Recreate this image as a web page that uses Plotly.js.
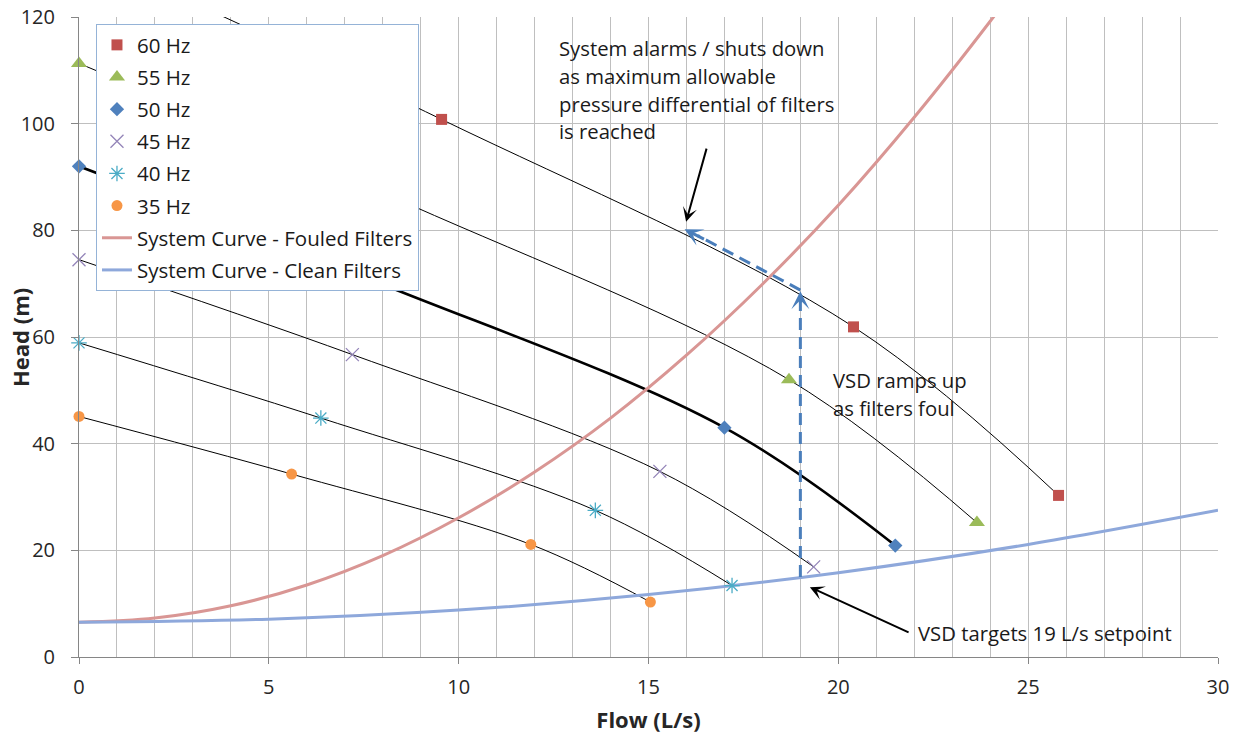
<!DOCTYPE html>
<html>
<head>
<meta charset="utf-8">
<script src="https://cdn.plot.ly/plotly-3.0.1.min.js"></script>
<style>html,body{margin:0;padding:0;background:#fff;}#chart{width:1240px;height:738px;}</style>
</head>
<body>
<div id="chart"></div>
<script>
// Pump curves (flow L/s, head m)
const flow60 = [0, 9.55, 20.4, 25.8];
const head60 = [132.5, 100.8, 61.9, 30.3];
const flow55 = [0, 8.75, 18.7, 23.65];
const head55 = [111.3, 84.7, 52.0, 25.2];
const flow50 = [0, 7.95, 17.0, 21.5];
const head50 = [92.0, 70.0, 43.0, 20.9];
const flow45 = [0, 7.2, 15.3, 19.35];
const head45 = [74.5, 56.7, 34.8, 16.9];
const flow40 = [0, 6.37, 13.6, 17.2];
const head40 = [58.9, 44.8, 27.5, 13.4];
const flow35 = [0, 5.6, 11.9, 15.05];
const head35 = [45.1, 34.3, 21.1, 10.3];

// System curves
const flowFouled = [0, 2, 4, 6, 8, 10, 12, 14, 16, 18, 20, 22, 24, 25];
const headFouled = [6.5, 7.3, 9.6, 13.5, 19.0, 26.1, 34.7, 44.8, 56.6, 69.9, 84.7, 101.2, 119.2, 128.8];
const flowClean = [0, 5, 10, 15, 20, 25, 30];
const headClean = [6.5, 7.1, 8.8, 11.7, 15.8, 21.1, 27.5];

const seriesNames = ['60 Hz', '55 Hz', '50 Hz', '45 Hz', '40 Hz', '35 Hz'];
const systemNames = ['System Curve - Fouled Filters', 'System Curve - Clean Filters'];

const FONT = 'Open Sans, Noto Sans, sans-serif';
const pumps = [
  {x: flow60, y: head60, color: '#C0504D', symbol: 'square', size: 11, w: 1},
  {x: flow55, y: head55, color: '#9BBB59', symbol: 'triangle-up', size: 14, w: 1},
  {x: flow50, y: head50, color: '#4F81BD', symbol: 'diamond', size: 11, w: 2.6},
  {x: flow45, y: head45, color: '#9384B8', symbol: 'x-thin-open', size: 13, w: 1},
  {x: flow40, y: head40, color: '#4BACC6', symbol: 'asterisk-open', size: 13, w: 1},
  {x: flow35, y: head35, color: '#F79646', symbol: 'circle', size: 11, w: 1}
];

const traces = [];
pumps.forEach((p, i) => {
  traces.push({
    x: p.x, y: p.y, mode: 'lines', type: 'scatter', showlegend: false, hoverinfo: 'skip',
    line: {color: '#000000', width: p.w, shape: 'spline', smoothing: 1}
  });
});
traces.push({
  x: flowFouled, y: headFouled, mode: 'lines', type: 'scatter', name: systemNames[0],
  legendgroup: 'g7', legendrank: 7,
  line: {color: '#D99694', width: 3, shape: 'spline', smoothing: 1}
});
traces.push({
  x: flowClean, y: headClean, mode: 'lines', type: 'scatter', name: systemNames[1],
  legendgroup: 'g8', legendrank: 8,
  line: {color: '#8EA8DB', width: 3, shape: 'spline', smoothing: 1}
});
pumps.forEach((p, i) => {
  const open = p.symbol.indexOf('open') >= 0;
  traces.push({
    x: p.x, y: p.y, mode: 'markers', type: 'scatter', name: seriesNames[i],
    legendgroup: 'g' + (i + 1), legendrank: i + 1, cliponaxis: false,
    marker: open
      ? {symbol: p.symbol, size: p.size, color: p.color, line: {color: p.color, width: 1.3}}
      : {symbol: p.symbol, size: p.size, color: p.color, line: {width: 0}}
  });
});

const blue = '#4A7EBB';
const txt = {family: FONT, size: 20.3, color: '#1a1a1a'};
const layout = {
  width: 1240, height: 738,
  margin: {l: 79, r: 22, t: 17, b: 81},
  paper_bgcolor: '#ffffff', plot_bgcolor: '#ffffff',
  font: {family: FONT, size: 20, color: '#262626'},
  showlegend: true,
  legend: {
    x: 0.0149, y: 0.989, xanchor: 'left', yanchor: 'top',
    bgcolor: '#ffffff', bordercolor: '#95B3D7', borderwidth: 1,
    font: {family: FONT, size: 20.5, color: '#1a1a1a'},
    traceorder: 'grouped', tracegroupgap: 2.5
  },
  xaxis: {
    range: [0, 30], dtick: 5, tick0: 0,
    showgrid: true, gridcolor: '#BFBFBF', gridwidth: 1,
    minor: {dtick: 1, showgrid: true, gridcolor: '#BFBFBF', gridwidth: 1, ticks: ''},
    zeroline: false, showline: true, linecolor: '#868686', linewidth: 1,
    ticks: 'outside', ticklen: 6, tickcolor: '#868686',
    ticklabelstandoff: 6,
    tickfont: {family: FONT, size: 20, color: '#262626'},
    title: {text: '<b>Flow (L/s)</b>', font: {family: FONT, size: 22, color: '#262626'}, standoff: 13}
  },
  yaxis: {
    range: [0, 120], dtick: 20, tick0: 0,
    showgrid: true, gridcolor: '#BFBFBF', gridwidth: 1,
    zeroline: false, showline: true, linecolor: '#868686', linewidth: 1,
    ticks: 'outside', ticklen: 7, tickcolor: '#868686',
    ticklabelstandoff: 12,
    tickfont: {family: FONT, size: 20, color: '#262626'}
  },
  shapes: [
    {type: 'line', xref: 'x', yref: 'y', x0: 19, y0: 15, x1: 19, y1: 67.2,
     line: {color: blue, width: 3, dash: '12px,7px'}},
    {type: 'line', xref: 'x', yref: 'y', x0: 19, y0: 68.8, x1: 16.3, y1: 79.0,
     line: {color: blue, width: 3, dash: '12px,7px'}}
  ],
  annotations: [
    {xref: 'paper', yref: 'paper', x: -0.0518, y: 0.5, xanchor: 'center', yanchor: 'middle', textangle: -90,
     showarrow: false, text: '<b>Head (m)</b>', font: {family: FONT, size: 22, color: '#262626'}},
    {xref: 'x', yref: 'y', x: 12.6, y: 114.2, xanchor: 'left', yanchor: 'middle', showarrow: false, align: 'left', text: 'System alarms / shuts down', font: txt},
    {xref: 'x', yref: 'y', x: 12.6, y: 108.9, xanchor: 'left', yanchor: 'middle', showarrow: false, align: 'left', text: 'as maximum allowable', font: txt},
    {xref: 'x', yref: 'y', x: 12.6, y: 103.7, xanchor: 'left', yanchor: 'middle', showarrow: false, align: 'left', text: 'pressure differential of filters', font: txt},
    {xref: 'x', yref: 'y', x: 12.6, y: 98.6, xanchor: 'left', yanchor: 'middle', showarrow: false, align: 'left', text: 'is reached', font: txt},
    {xref: 'x', yref: 'y', x: 19.8, y: 51.9, xanchor: 'left', yanchor: 'middle', showarrow: false, align: 'left', text: 'VSD ramps up', font: txt},
    {xref: 'x', yref: 'y', x: 19.8, y: 46.7, xanchor: 'left', yanchor: 'middle', showarrow: false, align: 'left', text: 'as filters foul', font: txt},
    {xref: 'x', yref: 'y', x: 22.05, y: 4.5, xanchor: 'left', yanchor: 'middle', showarrow: false, align: 'left', text: 'VSD targets 19 L/s setpoint', font: txt},
    // black arrows
    {xref: 'x', yref: 'y', axref: 'x', ayref: 'y', x: 15.99, y: 81.6, ax: 16.54, ay: 95.6, text: '', showarrow: true,
     arrowhead: 3, arrowsize: 1.2, arrowwidth: 2, arrowcolor: '#000000'},
    {xref: 'x', yref: 'y', axref: 'x', ayref: 'y', x: 19.25, y: 13.1, ax: 21.89, ay: 4.5, text: '', showarrow: true,
     arrowhead: 3, arrowsize: 1.2, arrowwidth: 2, arrowcolor: '#000000'},
    // dashed arrow heads
    {xref: 'x', yref: 'y', axref: 'x', ayref: 'y', x: 19, y: 68.6, ax: 19, ay: 66.2, text: '', showarrow: true,
     arrowhead: 3, arrowsize: 1, arrowwidth: 3, arrowcolor: blue},
    {xref: 'x', yref: 'y', axref: 'x', ayref: 'y', x: 15.95, y: 80.2, ax: 16.5, ay: 78.2, text: '', showarrow: true,
     arrowhead: 3, arrowsize: 1, arrowwidth: 3, arrowcolor: blue}
  ]
};

Plotly.newPlot('chart', traces, layout, {displayModeBar: false, staticPlot: true});
</script>
</body>
</html>
